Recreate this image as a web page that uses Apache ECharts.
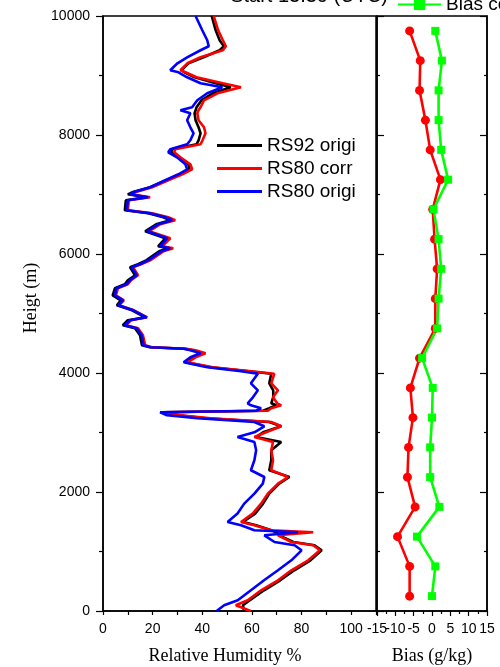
<!DOCTYPE html>
<html>
<head>
<meta charset="utf-8">
<script src="https://cdn.jsdelivr.net/npm/echarts@6/dist/echarts.min.js"></script>
<style>html,body{margin:0;padding:0;background:#fff}#c{width:500px;height:667px}</style>
</head>
<body>
<div id="c"></div>
<script>
// ---- Profile heights (m) shared by the three RH profiles ----
const profileHeights = [10000, 9760, 9592, 9491, 9424, 9306, 9205, 9088, 9054, 8970,
  8869, 8802, 8701, 8583, 8466, 8415, 8365, 8247, 8130, 8029,
  7911, 7844, 7760, 7709, 7625, 7508, 7424, 7340, 7239, 7121,
  7037, 7003, 6953, 6903, 6735, 6684, 6617, 6567, 6499, 6382,
  6264, 6130, 6096, 6045, 5894, 5827, 5777, 5642, 5558, 5491,
  5424, 5306, 5222, 5138, 5054, 4936, 4886, 4802, 4751, 4634,
  4466, 4432, 4407, 4382, 4331, 4264, 4180, 4096, 4029, 3987,
  3827, 3709, 3592, 3491, 3457, 3407, 3365, 3340, 3289, 3239,
  3177, 3104, 3003, 2924, 2840, 2701, 2533, 2365, 2252, 2141,
  1973, 1805, 1637, 1496, 1440, 1356, 1323, 1272, 1160, 1104,
  1020, 852, 684, 516, 348, 180, 96, 0];

// RS80 origi (blue), RH %
const rs80Origi = [37.3, 40.0, 42.0, 42.6, 39.3, 33.9, 30.0, 27.1, 30.4, 33.9,
  39.3, 48.1, 42.0, 38.0, 35.9, 31.2, 35.2, 33.9, 35.2, 36.5,
  35.2, 33.9, 27.1, 26.3, 29.8, 33.2, 33.9, 30.4, 25.1, 19.0,
  12.2, 10.9, 18.2, 10.0, 9.6, 19.0, 25.1, 27.9, 22.2, 17.8,
  25.9, 23.0, 27.1, 23.5, 18.2, 14.9, 11.5, 13.6, 10.9, 9.5,
  5.4, 4.8, 8.1, 6.1, 12.2, 17.6, 10.9, 8.8, 13.6, 15.6,
  16.3, 19.0, 32.5, 35.2, 39.3, 35.2, 32.5, 42.0, 55.6, 62.4,
  59.6, 62.4, 60.4, 58.3, 59.6, 63.7, 61.7, 23.0, 25.8, 38.0,
  61.0, 65.0, 61.0, 54.2, 61.0, 61.7, 61.0, 59.6, 65.0, 64.4,
  61.0, 56.9, 54.2, 50.2, 55.6, 61.0, 78.6, 65.0, 69.1, 77.2,
  80.0, 75.9, 70.5, 64.9, 59.6, 54.3, 48.8, 45.8];

// RS80 corr (red), RH %
const rs80Corr = [44.6, 46.4, 48.3, 49.5, 48.3, 39.3, 34.0, 31.2, 33.2, 37.7,
  48.3, 55.6, 46.1, 40.7, 39.3, 38.5, 38.0, 38.5, 40.7, 41.3,
  40.1, 39.3, 29.1, 28.7, 31.2, 35.2, 35.9, 32.0, 26.3, 19.8,
  12.9, 11.3, 19.0, 10.4, 10.0, 19.8, 26.3, 29.1, 23.0, 18.6,
  27.1, 23.9, 28.3, 24.3, 19.0, 15.3, 12.1, 14.1, 11.3, 10.0,
  6.0, 5.2, 8.4, 6.4, 12.5, 17.8, 11.3, 9.2, 14.1, 16.1,
  17.0, 19.8, 33.6, 37.3, 41.3, 37.3, 34.0, 44.2, 59.6, 69.0,
  67.8, 70.5, 68.5, 70.2, 71.8, 67.8, 66.4, 24.4, 31.2, 43.4,
  67.8, 71.8, 65.7, 61.0, 68.5, 67.8, 68.5, 67.8, 74.6, 70.5,
  66.4, 63.7, 60.3, 55.6, 61.0, 67.8, 84.7, 70.5, 75.9, 84.7,
  87.4, 82.7, 75.9, 70.5, 63.7, 58.3, 53.5, 59.5];

// RS92 origi (black), RH %
const rs92Origi = [43.8, 45.4, 47.0, 48.7, 47.0, 40.5, 34.4, 31.6, 32.8, 36.9,
  45.4, 51.5, 44.2, 39.7, 37.7, 37.3, 36.9, 37.3, 38.5, 39.3,
  38.5, 37.7, 27.9, 27.5, 30.4, 34.4, 34.8, 31.2, 25.5, 19.0,
  11.7, 10.0, 17.4, 9.2, 8.8, 18.2, 24.3, 27.1, 21.4, 17.0,
  25.1, 22.2, 26.3, 22.6, 17.4, 14.1, 10.9, 12.9, 10.0, 8.8,
  4.8, 3.9, 7.2, 5.6, 11.7, 17.0, 10.0, 8.0, 12.9, 14.9,
  15.7, 19.0, 32.8, 36.1, 40.5, 36.5, 33.2, 43.4, 58.8, 67.8,
  67.0, 68.6, 68.6, 67.8, 69.8, 67.0, 64.5, 24.3, 30.4, 41.3,
  67.0, 71.8, 64.5, 61.7, 71.8, 67.8, 67.8, 67.0, 75.1, 71.0,
  67.0, 64.5, 61.3, 56.4, 61.7, 67.8, 69.8, 71.0, 76.7, 85.2,
  88.1, 83.6, 77.1, 71.4, 64.9, 59.2, 56.4, 56.8];

// ---- Bias panel ----
const biasHeights = [250, 750, 1250, 1750, 2250, 2750, 3250, 3750, 4250, 4750,
  5250, 5750, 6250, 6750, 7250, 7750, 8250, 8750, 9250, 9750];
const biasOrigi = [-6.1, -6.1, -9.4, -4.6, -6.7, -6.4, -5.2, -5.9, -3.4, 0.9,
  0.9, 1.4, 0.7, 0.2, 2.3, -0.5, -1.8, -3.4, -3.2, -6.1];
const biasCorr = [0.0, 0.9, -4.1, 2.0, -0.5, -0.5, 0.0, 0.2, -2.7, 1.4,
  1.8, 2.5, 1.8, 0.4, 4.4, 2.5, 1.8, 1.8, 2.7, 0.9];

// tick label sets
const rhTickLabels = [0, 20, 40, 60, 80, 100];
const heightTickLabels = [0, 2000, 4000, 6000, 8000, 10000];
const biasTickLabelsA = [-15, -5, 5, 15];
const biasTickLabelsB = [-10, 0, 10];

const pair = (xs, ys) => xs.map((x, i) => [x, ys[i]]);
const SANS = 'Liberation Sans, Arial, sans-serif';
const SERIF = 'Liberation Serif, Times New Roman, serif';
const axisLineStyle = {color: '#000', width: 1.5};

const chart = echarts.init(document.getElementById('c'), null, {renderer: 'canvas'});
chart.setOption({
  animation: false,
  backgroundColor: '#fff',
  grid: [
    {left: 103, top: 16, width: 273, height: 595, show: true, borderColor: '#000', borderWidth: 1.5, backgroundColor: 'transparent'},
    {left: 377, top: 16, width: 110, height: 595, show: true, borderColor: '#000', borderWidth: 1.5, backgroundColor: 'transparent'}
  ],
  xAxis: [
    {gridIndex: 0, type: 'value', min: 0, max: 110, interval: 10,
      axisLine: {onZero: false, lineStyle: axisLineStyle},
      axisTick: {inside: false, length: 4, lineStyle: {color: '#000', width: 1.2}},
      splitLine: {show: false},
      axisLabel: {color: '#000', fontSize: 14, fontFamily: SANS, margin: 11,
        formatter: v => rhTickLabels.includes(v) ? String(v) : ''}
    },
    {gridIndex: 1, type: 'value', min: -15, max: 15, interval: 5, position: 'bottom',
      axisLine: {onZero: false, lineStyle: axisLineStyle},
      axisTick: {inside: false, length: 5, lineStyle: {color: '#000', width: 1.2}},
      minorTick: {show: true, splitNumber: 2, length: 3, lineStyle: {color: '#000', width: 1.2}},
      splitLine: {show: false},
      axisLabel: {color: '#000', fontSize: 14, fontFamily: SANS, margin: 11, hideOverlap: false,
        showMinLabel: true, showMaxLabel: true,
        formatter: v => biasTickLabelsA.includes(v) ? String(v) : ''}
    },
    {gridIndex: 1, type: 'value', min: -15, max: 15, interval: 5, position: 'bottom', offset: 0,
      axisLine: {show: false, onZero: false}, axisTick: {show: false},
      splitLine: {show: false},
      axisLabel: {color: '#000', fontSize: 14, fontFamily: SANS, margin: 11, hideOverlap: false,
        showMinLabel: true, showMaxLabel: true,
        formatter: v => biasTickLabelsB.includes(v) ? String(v) : ''}
    }
  ],
  yAxis: [
    {gridIndex: 0, type: 'value', min: 0, max: 10000, interval: 2000,
      axisLine: {onZero: false, lineStyle: axisLineStyle},
      axisTick: {inside: false, length: 7, lineStyle: {color: '#000', width: 1.2}},
      minorTick: {show: true, splitNumber: 2, length: 4, lineStyle: {color: '#000', width: 1.2}},
      splitLine: {show: false},
      axisLabel: {color: '#000', fontSize: 14, fontFamily: SANS, margin: 13,
        formatter: v => heightTickLabels.includes(v) ? String(v) : ''}
    },
    {gridIndex: 1, type: 'value', min: 0, max: 10000, interval: 2000, position: 'left',
      axisLine: {onZero: false, lineStyle: axisLineStyle},
      axisTick: {inside: true, length: 7, lineStyle: {color: '#000', width: 1.2}},
      minorTick: {show: true, splitNumber: 2, length: 3, lineStyle: {color: '#000', width: 1.2}},
      splitLine: {show: false}, axisLabel: {show: false}
    },
    {gridIndex: 1, type: 'value', min: 0, max: 10000, interval: 2000, position: 'right',
      axisLine: {onZero: false, lineStyle: axisLineStyle},
      axisTick: {inside: true, length: 7, lineStyle: {color: '#000', width: 1.2}},
      minorTick: {show: true, splitNumber: 2, length: 3, lineStyle: {color: '#000', width: 1.2}},
      splitLine: {show: false}, axisLabel: {show: false}
    }
  ],
  legend: [
    {data: [{name: 'RS92 origi', icon: 'rect'}, {name: 'RS80 corr', icon: 'rect'}, {name: 'RS80 origi', icon: 'rect'}],
      orient: 'vertical', left: 217, top: 136,
      itemWidth: 45, itemHeight: 3, itemGap: 4, padding: 0,
      textStyle: {color: '#000', fontSize: 19, fontFamily: SANS, lineHeight: 19}},
    {data: ['Bias corr'], orient: 'horizontal', left: 397, top: -5, padding: 0,
      itemWidth: 43, itemHeight: 14,
      textStyle: {color: '#000', fontSize: 19, fontFamily: SANS}}
  ],
  graphic: [
    {type: 'text', x: 388, y: -3.5, style: {text: 'Start 13.39 (UTC)', font: '20px ' + SANS, fill: '#000', textAlign: 'right', textVerticalAlign: 'middle'}},
    {type: 'text', x: 225, y: 656, style: {text: 'Relative Humidity %', font: '18px ' + SERIF, fill: '#000', textAlign: 'center', textVerticalAlign: 'middle'}},
    {type: 'text', x: 432, y: 656, style: {text: 'Bias (g/kg)', font: '18px ' + SERIF, fill: '#000', textAlign: 'center', textVerticalAlign: 'middle'}},
    {type: 'text', x: 31, y: 298, rotation: Math.PI / 2, style: {text: 'Heigt (m)', font: '18px ' + SERIF, fill: '#000', textAlign: 'center', textVerticalAlign: 'middle'}}
  ],
  series: [
    {name: 'RS92 origi', type: 'line', xAxisIndex: 0, yAxisIndex: 0, symbol: 'none',
      lineStyle: {color: '#000000', width: 2.6}, itemStyle: {color: '#000000'},
      data: pair(rs92Origi, profileHeights)},
    {name: 'RS80 corr', type: 'line', xAxisIndex: 0, yAxisIndex: 0, symbol: 'none',
      lineStyle: {color: '#ff0000', width: 2.6}, itemStyle: {color: '#ff0000'},
      data: pair(rs80Corr, profileHeights)},
    {name: 'RS80 origi', type: 'line', xAxisIndex: 0, yAxisIndex: 0, symbol: 'none',
      lineStyle: {color: '#0000ff', width: 2.6}, itemStyle: {color: '#0000ff'},
      data: pair(rs80Origi, profileHeights)},
    {name: 'Bias origi', type: 'line', xAxisIndex: 1, yAxisIndex: 1, symbol: 'circle', symbolSize: 9,
      lineStyle: {color: '#ff0000', width: 2.6}, itemStyle: {color: '#ff0000'},
      data: pair(biasOrigi, biasHeights)},
    {name: 'Bias corr', type: 'line', xAxisIndex: 1, yAxisIndex: 1, symbol: 'rect', symbolSize: 8,
      lineStyle: {color: '#00ff00', width: 2.6}, itemStyle: {color: '#00ff00'},
      data: pair(biasCorr, biasHeights)}
  ]
});
</script>
</body>
</html>
